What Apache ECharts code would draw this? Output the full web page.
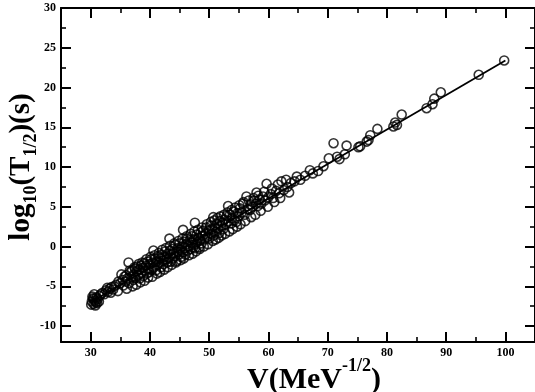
<!DOCTYPE html>
<html><head><meta charset="utf-8">
<script src="https://cdn.jsdelivr.net/npm/echarts@6/dist/echarts.min.js"></script>
<style>html,body{margin:0;padding:0;background:#fff}#c{width:535px;height:392px}</style>
</head><body><div id="c"></div>
<script>
const vValues = [
30.2,30.4,30.5,30.7,30.9,30.3,31.0,31.2,31.5,31.7,30.6,31.4,30.1,30.8,31.1,30.5,
32.0,32.3,32.6,32.9,33.2,33.5,33.8,33.4,32.8,34.0,
34.3,34.6,34.7,35.0,35.2,35.4,35.5,35.7,35.9,36.0,36.2,36.4,36.5,36.7,
36.9,37.0,37.2,37.3,37.5,37.6,37.8,37.9,38.0,38.2,38.3,38.5,38.6,38.8,38.9,39.0,
39.2,39.3,39.5,39.6,39.8,39.9,40.0,40.2,40.3,40.5,40.6,40.7,40.9,41.0,41.1,41.3,41.4,41.6,
41.8,41.9,42.0,42.2,42.3,42.5,42.6,42.8,42.9,43.0,43.3,43.2,43.4,43.5,43.6,43.8,43.9,44.0,44.2,44.3,
44.5,44.6,44.7,44.9,45.0,45.1,45.3,45.4,45.6,45.6,45.8,45.9,46.0,46.1,46.3,46.4,46.5,
46.7,46.8,47.0,47.1,47.3,47.4,47.6,47.6,47.7,47.9,48.0,48.2,48.3,48.5,48.6,48.7,48.9,49.0,
49.2,49.4,49.5,49.7,49.9,50.0,50.2,50.4,50.5,50.7,50.8,51.0,51.2,51.3,51.5,51.7,51.8,52.0,
52.2,52.4,52.6,52.8,53.0,53.2,53.3,53.5,53.7,53.9,54.1,54.3,54.6,54.8,55.0,55.2,
55.5,55.8,56.0,56.3,56.5,56.9,57.0,57.3,57.6,57.9,58.0,58.2,
58.5,58.8,59.1,59.4,59.7,60.0,60.4,60.8,61.3,61.8,
62.2,62.6,63.2,63.8,64.4,64.8,65.4,66.2,67.0,67.5,68.4,69.3,
70.2,71.0,71.6,72.0,72.9,73.2,75.2,75.5,76.6,76.9,77.2,78.4,81.1,81.4,81.7,82.5,86.7,87.7,88.0,89.1,95.5,99.8,
36.1,36.6,37.1,37.4,37.7,38.1,38.4,38.7,39.1,39.4,39.7,40.1,40.4,40.8,41.2,41.5,41.7,42.1,42.4,42.7,
43.0,43.4,43.7,44.1,44.4,44.8,45.2,45.5,45.7,46.2,46.6,46.9,47.2,47.5,47.8,48.1,48.4,48.8,49.1,49.6,
49.8,50.3,50.6,50.9,51.1,51.4,51.6,51.9,52.1,52.5,52.7,53.1,53.4,53.8,54.0,54.4,54.7,55.1,55.3,55.7,
56.1,56.7,57.1,57.5,57.8,58.3,58.7,59.3,59.9,60.6,61.0,61.6,62.0,63.0,63.5
];
const logT = [
-6.9,-6.5,-7.2,-6.8,-7.0,-6.3,-6.4,-6.6,-6.2,-6.0,-6.0,-6.9,-7.3,-7.4,-7.1,-6.6,
-5.8,-6.0,-5.5,-5.7,-5.3,-5.1,-5.4,-5.8,-5.2,-5.0,
-4.8,-5.6,-4.4,-4.6,-3.5,-4.2,-4.9,-3.8,-4.4,-3.6,-4.0,-2.0,-4.6,-3.2,
-3.8,-3.0,-4.2,-3.5,-2.8,-3.9,-3.1,-2.5,-3.6,-2.9,-4.0,-2.4,-3.3,-2.7,-3.7,-2.1,
-3.0,-2.4,-3.4,-1.9,-2.7,-3.2,-2.2,-1.6,-2.9,-2.0,-0.5,-2.6,-1.5,-3.0,-1.9,-2.3,-1.2,-2.0,
-1.5,-2.6,-1.0,-1.8,-2.2,-1.3,-0.6,-1.6,-2.0,-0.9,1.0,-1.4,-0.5,-1.9,-1.0,-0.3,-1.5,-0.8,-1.2,0.2,
-1.8,-0.6,-0.2,-1.0,0.4,-0.4,-1.3,0.0,2.1,-0.7,0.6,-0.2,-1.0,0.3,1.0,-0.5,0.1,
0.8,-0.3,0.5,1.3,-0.1,0.9,3.0,-0.2,0.3,1.5,0.6,1.1,-0.1,0.8,1.8,0.4,1.3,2.0,
0.9,1.6,2.4,1.2,2.0,1.0,2.6,1.6,2.2,3.7,1.4,2.4,1.9,2.9,2.3,1.7,3.2,2.6,
3.0,2.2,3.4,2.8,3.9,5.1,3.2,4.0,2.9,3.6,4.4,3.3,3.1,4.2,3.8,4.8,
4.3,5.6,4.0,6.3,4.7,4.6,5.3,5.0,5.8,5.4,6.8,5.1,
5.9,5.4,6.3,5.8,7.9,6.2,6.6,6.1,7.0,6.7,
8.2,7.1,7.5,8.0,8.2,8.8,8.4,8.9,9.6,9.2,9.5,10.1,
11.1,13.0,11.3,11.0,11.6,12.7,12.5,12.6,13.2,13.4,14.0,14.8,15.1,15.6,15.3,16.6,17.4,17.9,18.6,19.4,21.6,23.4,
-5.3,-3.0,-5.0,-2.6,-4.8,-2.2,-4.5,-2.0,-4.3,-1.6,-3.9,-1.3,-3.8,-1.1,-3.4,-0.8,-3.2,-0.4,-2.9,-0.2,
-2.6,0.1,-2.3,0.4,-2.0,0.7,-1.7,1.0,-1.5,1.3,-1.1,1.6,-0.9,1.9,-0.6,2.1,-0.3,2.4,0.0,2.8,
0.3,3.1,0.7,3.3,0.9,3.6,1.1,3.8,1.4,4.0,1.6,4.3,1.9,4.6,2.2,4.9,2.5,5.2,2.8,5.4,
3.2,5.8,3.7,6.1,4.0,6.4,4.5,6.9,5.0,7.3,5.6,7.8,6.1,8.4,6.8
];
const fitV = [30.2, 100];
const fitLogT = [-6.9, 23.4];
const xMajorTicks = [30, 40, 50, 60, 70, 80, 90, 100];
const xMinorTicks = [35, 45, 55, 65, 75, 85, 95];
const yMajorTicks = [-10, -5, 0, 5, 10, 15, 20, 25, 30];
const yMinorTicks = [-7.5, -2.5, 2.5, 7.5, 12.5, 17.5, 22.5, 27.5];

const FONT = 'Liberation Serif';
function axis(pos, min, max, ticks, len, labels, line) {
  return {
    type: 'value', position: pos, min: min, max: max,
    axisLine: { show: line, onZero: false, lineStyle: { color: '#000', width: 2 } },
    axisTick: { show: true, inside: true, length: len, customValues: ticks,
      lineStyle: { color: '#000', width: len > 6 ? 2 : 1.6 } },
    axisLabel: labels ? { show: true, customValues: ticks, color: '#000', fontFamily: FONT,
      fontWeight: 'bold', fontSize: 12, margin: 5 } : { show: false },
    splitLine: { show: false }
  };
}
const chart = echarts.init(document.getElementById('c'), null, { renderer: 'canvas' });
chart.setOption({
  animation: false,
  backgroundColor: '#fff',
  grid: { left: 61, right: 0, top: 8, bottom: 50 },
  xAxis: [
    axis('bottom', 25, 105, xMajorTicks, 10, true, true),
    axis('bottom', 25, 105, xMinorTicks, 5, false, false),
    axis('top', 25, 105, xMajorTicks, 10, false, true),
    axis('top', 25, 105, xMinorTicks, 5, false, false)
  ],
  yAxis: [
    axis('left', -12, 30, yMajorTicks, 10, true, true),
    axis('left', -12, 30, yMinorTicks, 5, false, false),
    axis('right', -12, 30, yMajorTicks, 10, false, true),
    axis('right', -12, 30, yMinorTicks, 5, false, false)
  ],
  graphic: [
    { type: 'text', x: 314, y: 372, silent: true,
      style: { text: '{m|V(MeV}{s|-1/2}{m|)}', align: 'center', verticalAlign: 'middle', fill: '#000',
        rich: {
          m: { fontFamily: FONT, fontWeight: 'bold', fontSize: 30, lineHeight: 30, verticalAlign: 'top', padding: [8, 0, 0, 0] },
          s: { fontFamily: FONT, fontWeight: 'bold', fontSize: 18, lineHeight: 18, verticalAlign: 'top' }
        } } },
    { type: 'text', x: 22, y: 167, rotation: Math.PI / 2, silent: true,
      style: { text: '{m|log}{b|10}{m|(T}{b|1/2}{m|)(s)}', align: 'center', verticalAlign: 'middle', fill: '#000',
        rich: {
          m: { fontFamily: FONT, fontWeight: 'bold', fontSize: 29, lineHeight: 29, verticalAlign: 'top' },
          b: { fontFamily: FONT, fontWeight: 'bold', fontSize: 18, lineHeight: 18, verticalAlign: 'top', padding: [15, 0, 0, 0] }
        } } }
  ],
  series: [
    { type: 'line', xAxisIndex: 0, yAxisIndex: 0, data: fitV.map((v, i) => [v, fitLogT[i]]),
      showSymbol: false, symbol: 'none', lineStyle: { color: '#000', width: 1.8 }, silent: true, z: 3 },
    { type: 'scatter', xAxisIndex: 0, yAxisIndex: 0, data: vValues.map((v, i) => [v, logT[i]]),
      symbol: 'circle', symbolSize: 9,
      itemStyle: { color: 'rgba(0,0,0,0)', borderColor: '#000', borderWidth: 1.6 }, silent: true, z: 2 }
  ]
});
</script></body></html>
